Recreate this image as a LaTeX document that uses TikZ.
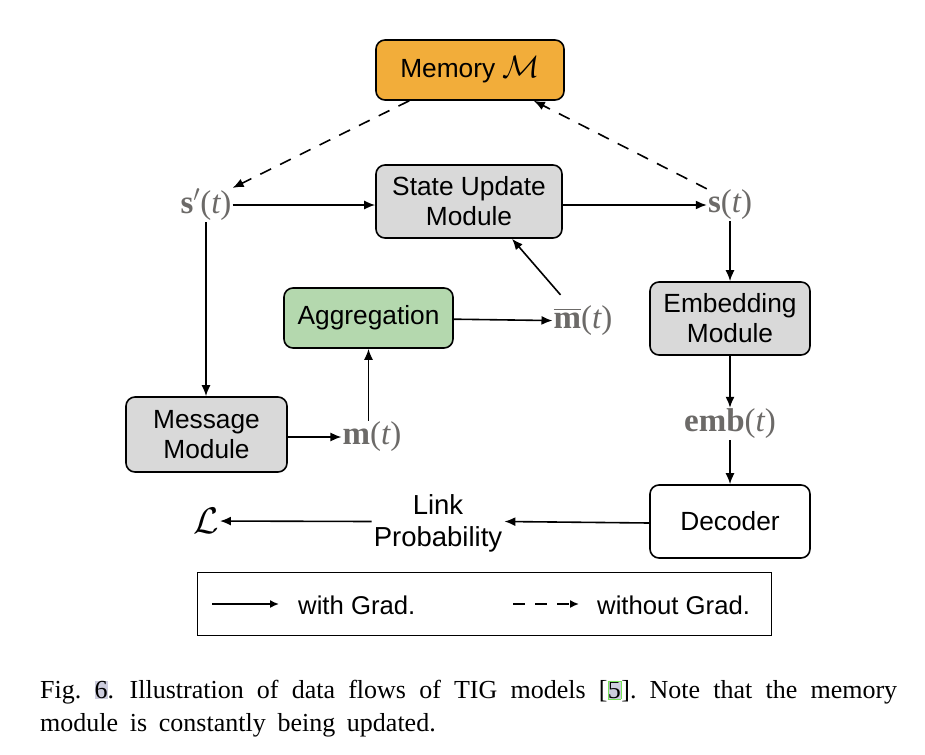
\RequirePackage{fix-cm}
\documentclass[tikz,border=0pt]{standalone}
\usepackage{fontspec}
\usepackage{amsmath}
\setsansfont{Liberation Sans}
\newfontfamily\capfont{Liberation Serif}
\usetikzlibrary{arrows.meta,calc}
\definecolor{memorange}{RGB}{242,173,58}
\definecolor{boxgrey}{RGB}{217,217,217}
\definecolor{agggreen}{RGB}{180,216,174}
\definecolor{mathgrey}{RGB}{108,106,104}
\definecolor{hlgrey}{RGB}{205,205,222}
\definecolor{hlgreen}{RGB}{120,230,90}
\newcommand{\vb}[1]{{\bfseries #1}}
\newcommand{\vt}{{\itshape t}}
\tikzset{
  modbox/.style={draw=black, line width=1.6pt, rounded corners=9pt, align=center,
    font=\sffamily\fontsize{26.3}{30}\selectfont, inner sep=0pt},
  mathlbl/.style={text=mathgrey, font=\capfont\fontsize{33}{34}\selectfont, inner sep=1pt},
  flow/.style={line width=1.6pt, -{Latex[length=11pt,width=9pt]}},
  noflow/.style={line width=1.6pt, dash pattern=on 12pt off 10pt, -{Latex[length=11pt,width=9pt]}},
  plain/.style={font=\sffamily\fontsize{27.5}{32}\selectfont, align=center, inner sep=2pt},
  legtext/.style={font=\sffamily\fontsize{25.7}{30}\selectfont, anchor=west, inner sep=0pt}
}
\begin{document}
\begin{tikzpicture}[x=1pt,y=-1pt]
\useasboundingbox (0,0) rectangle (925,754);
% boxes
\node[modbox, fill=memorange, minimum width=188pt, minimum height=60pt] (mem) at (470,70) {Memory {\fontsize{31}{31}\selectfont$\mathcal{M}$}};
\node[modbox, fill=boxgrey, minimum width=186pt, minimum height=73pt] (su) at (469,201.5) {State Update\\Module};
\node[modbox, fill=boxgrey, minimum width=160pt, minimum height=73pt] (emb) at (730,318.5) {Embedding\\Module};
\node[modbox, fill=agggreen, minimum width=169pt, minimum height=60pt] (agg) at (368.5,318) {Aggregation};
\node[modbox, fill=boxgrey, minimum width=161pt, minimum height=75pt] (msg) at (206.5,434.5) {Message\\Module};
\node[modbox, fill=white, minimum width=160pt, minimum height=73pt] (dec) at (730,521.5) {Decoder};
% math labels
\node[mathlbl] (sp) at (206,205) {\vb{s}$'$(\vt)};
\node[mathlbl] (s) at (730,205) {\vb{s}(\vt)};
\node[mathlbl] (mbar) at (583,321) {$\overline{\hbox{\vb{m}}}$(\vt)};
\node[mathlbl] (m) at (372,437) {\vb{m}(\vt)};
\node[mathlbl] (embt) at (730,424) {\vb{emb}(\vt)};
\node[text=black, font=\fontsize{37}{38}\selectfont, inner sep=1pt] (L) at (206,521) {$\mathcal{L}$};
\node[plain] (lp) at (438,523) {Link\\Probability};
% connectors
\coordinate (mbarstart) at ($(mbar.north west)+(8,-10)$);
\draw[flow] (sp) -- (su.west |- sp);
\draw[flow] (su.east |- s) -- (s);
\draw[noflow] ([xshift=34pt]mem.south west) -- (sp.north east);
\draw[noflow] (s.north west) -- ([xshift=-31pt]mem.south east);
\draw[flow] (s) -- (emb);
\draw[flow] (agg) -- (mbar);
\draw[flow] (mbarstart) -- ([xshift=43pt]su.south);
\draw[flow] (sp) -- (msg.north -| sp);
\draw[flow] (msg.east |- m) -- (m);
\draw[flow] (m.north -| agg) -- (agg.south);
\draw[flow] (emb) -- (embt);
\draw[flow] (embt) -- (dec);
\draw[flow] (dec.west |- lp) -- (lp.east |- dec);
\draw[flow] (lp.west |- dec) -- (L);
% legend
\node[draw=black, line width=1pt, minimum width=574pt, minimum height=63pt, inner sep=0pt] (leg) at (484,603.5) {};
\coordinate (l1a) at (212,604);
\coordinate (l1b) at (279,604);
\coordinate (l2a) at (513,604);
\coordinate (l2b) at (579,604);
\draw[line width=1.6pt, -{Latex[length=9pt,width=8pt]}] (l1a) -- (l1b);
\draw[line width=1.6pt, dash pattern=on 12pt off 10pt, -{Latex[length=9pt,width=8pt]}] (l2a) -- (l2b);
\node[legtext] (wg) at (298,605) {with Grad.};
\node[legtext] (wog) at (597,605) {without Grad.};
% caption
\node[anchor=north west, inner sep=0pt, text width=857pt, align=justify, font=\capfont\fontsize{26}{33}\selectfont] (cap) at (40,680)
{{\frenchspacing\spaceskip=0.45em plus 0.3em minus 0.12em\setlength{\fboxsep}{0pt}Fig.~\colorbox{hlgrey}{6}.\hspace{0.6em}Illustration of data flows of TIG models [\fcolorbox{hlgreen}{hlgrey}{5}]. Note that the memory\linebreak module is constantly being updated.}};
\end{tikzpicture}
\end{document}
